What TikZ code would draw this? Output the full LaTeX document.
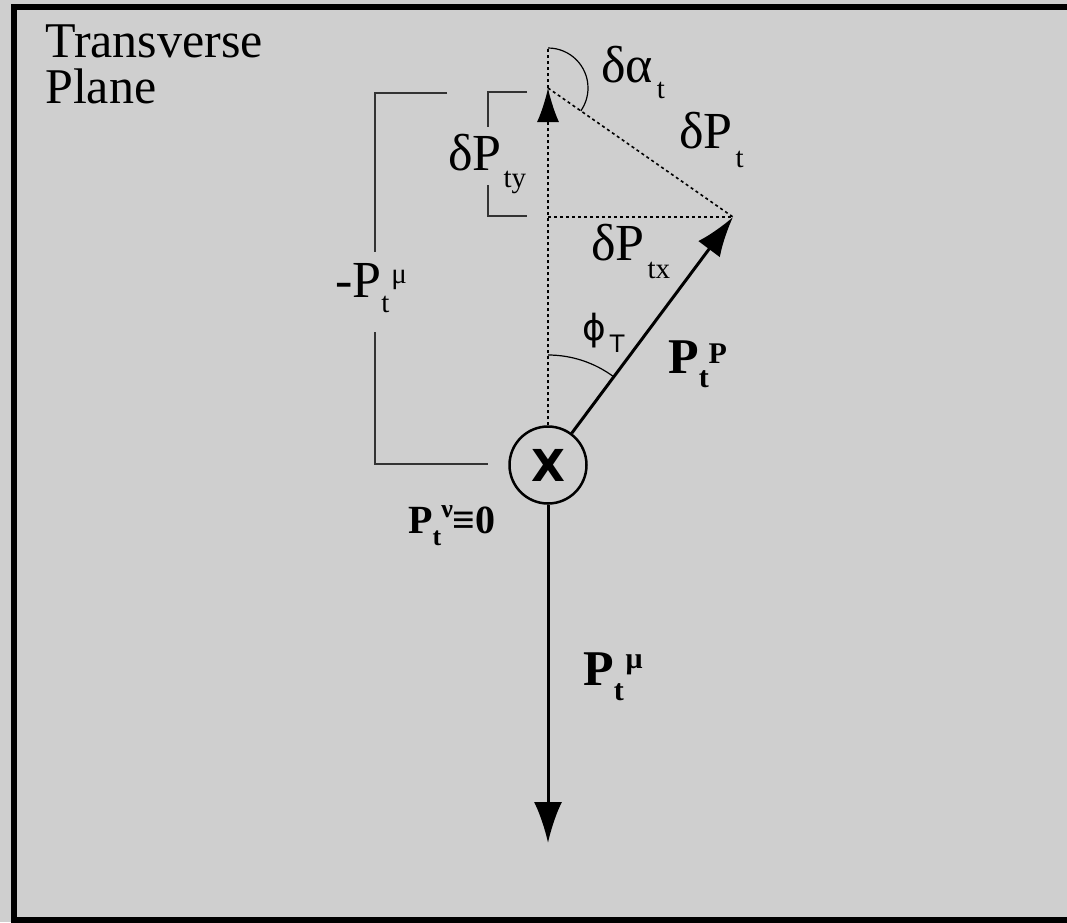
\documentclass[tikz,border=0pt]{standalone}
\usepackage{fontspec}
\setmainfont{Liberation Serif}
\newfontfamily\dvsans{DejaVu Sans}
\usetikzlibrary{arrows.meta}

\definecolor{planegray}{RGB}{207,207,207}
\definecolor{inkgray}{RGB}{51,51,51}
\newcommand{\idx}[3]{\raisebox{#1}{\fontsize{#2}{#2}\selectfont #3}}

\tikzset{
  lbl/.style={anchor=base west, inner sep=0pt, font=\fontsize{52}{52}\selectfont},
  blbl/.style={anchor=base west, inner sep=0pt, font=\fontsize{50}{50}\selectfont\bfseries},
  guide/.style={line width=1.6pt, dash pattern=on 3pt off 3pt},
  brace/.style={line width=1.8pt, draw=inkgray},
  vec/.style={line width=3pt},
  angmark/.style={line width=1.2pt}
}

\begin{document}
\begin{tikzpicture}[x=1pt,y=-1pt]
\fill[planegray] (0,0) rectangle (1067,922);
\useasboundingbox (0,0) rectangle (1067,922);
\draw[line width=6pt] (1080,7) -- (13.5,7) -- (13.5,920) -- (1080,920);

\node[anchor=north west, align=left, inner sep=0pt, font=\fontsize{50}{46}\selectfont] (plane) at (45,25) {Transverse\\Plane};

\node[circle, draw, line width=2.5pt, minimum size=77pt, inner sep=0pt, font=\dvsans\bfseries\fontsize{44}{44}\selectfont] (vtx) at (548,465) {X};

\coordinate (tipy) at (548,88);
\coordinate (topy) at (548,48);
\coordinate (tipp) at (733,217);
\coordinate (foot) at (548,217);
\coordinate (tipmu) at (548,843);

\draw[guide, -{Latex[length=34pt,width=22pt]}] (vtx.north) -- (tipy);
\draw[guide] (tipy) -- (topy);
\draw[guide] (tipy) -- (tipp);
\draw[guide] (foot) -- (tipp);
\draw[vec, -{Latex[length=40pt,width=27pt]}] (vtx) -- (tipp);
\draw[vec, -{Latex[length=41pt,width=28pt]}] (vtx) -- (tipmu);

\draw[angmark] (topy) arc[start angle=-90, end angle=35, radius=40];
\draw[angmark] (548,355) arc[start angle=-90, end angle=-53.3, radius=110];

\draw[brace] (447,93) -- (375,93) -- (375,252);
\draw[brace] (375,332) -- (375,464) -- (488,464);
\draw[brace] (527,92) -- (488,92) -- (488,127);
\draw[brace] (488,185) -- (488,216) -- (527,216);

\node[lbl] (dalpha) at (601,82) {δα\kern4pt\idx{-16pt}{29}{t}};
\node[lbl] (dpt) at (679,148) {δP\kern3pt\idx{-19pt}{29}{t}};
\node[lbl] (dpty) at (448,170) {δP\kern2pt\idx{-17pt}{29}{ty}};
\node[lbl] (dptx) at (591,260) {δP\kern3pt\idx{-18pt}{29}{tx}};
\node[lbl, font=\dvsans\fontsize{36}{36}\selectfont] (phi) at (582,340) {ϕ\kern4pt\idx{-12pt}{24}{T}};
\node[blbl] (pp) at (668,373) {P\idx{-14pt}{30}{t}\idx{10pt}{30}{P}};
\node[lbl] (mpmu) at (335,297) {-P\idx{-15pt}{29}{t}\kern2pt\idx{14pt}{29}{μ}};
\node[blbl, font=\fontsize{40}{40}\selectfont\bfseries] (pnu) at (408,533) {P\idx{-12pt}{26}{t}\idx{16pt}{26}{ν}≡0};
\node[blbl] (pmu) at (583,685) {P\idx{-15pt}{30}{t}\kern2pt\idx{17pt}{30}{μ}};
\end{tikzpicture}
\end{document}
